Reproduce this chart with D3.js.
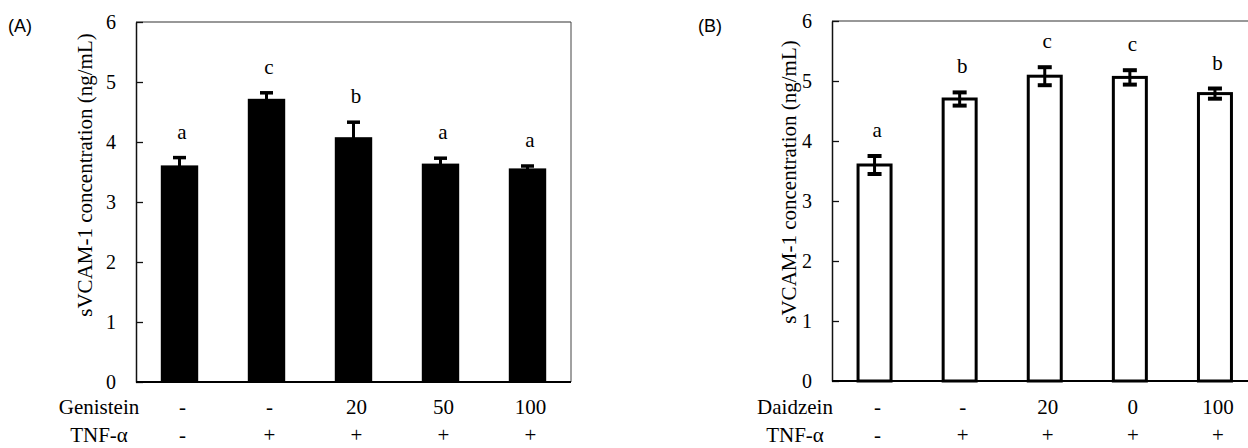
<!DOCTYPE html>
<html>
<head>
<meta charset="utf-8">
<script src="https://cdn.jsdelivr.net/npm/d3@7"></script>
<style>
  body { margin: 0; background: #fff; }
  svg text { font-family: "Liberation Serif", "Times New Roman", serif; fill: #000; }
</style>
</head>
<body>
<svg id="chart" width="1248" height="448"></svg>
<script>
// groups on the x axis (same order in both panels)
const groups = ["g1", "g2", "g3", "g4", "g5"];
const yTicks = [0, 1, 2, 3, 4, 5, 6];
const tnfLabels = ["-", "+", "+", "+", "+"];

// (A) genistein
const genisteinDose = ["-", "-", "20", "50", "100"];
const genisteinMean = [3.61, 4.72, 4.08, 3.64, 3.56];
const genisteinSD = [0.13, 0.10, 0.25, 0.09, 0.04];
const genisteinLetters = ["a", "c", "b", "a", "a"];

// (B) daidzein
const daidzeinDose = ["-", "-", "20", "0", "100"];
const daidzeinMean = [3.60, 4.70, 5.08, 5.06, 4.79];
const daidzeinSD = [0.15, 0.11, 0.15, 0.12, 0.085];
const daidzeinLetters = ["a", "b", "c", "c", "b"];

const svg = d3.select("#chart");

function drawPanel(p) {
    const g = svg.append("g");

    const x = d3.scaleBand()
        .domain(groups)
        .range([p.left, p.right])
        .paddingInner(p.pad)
        .paddingOuter(p.pad / 2);
    const y = d3.scaleLinear().domain([0, 6]).range([p.bottom, p.top]);
    const bw = x.bandwidth();
    const cx = d => x(d) + bw / 2;

    const rows = groups.map((d, i) => ({
        id: d, mean: p.mean[i], sd: p.sd[i], letter: p.letters[i],
        dose: p.dose[i], tnf: tnfLabels[i]
    }));

    // frame: thin top and right border
    g.append("line")
        .attr("x1", p.left).attr("x2", p.right)
        .attr("y1", p.top).attr("y2", p.top)
        .attr("stroke", "#333").attr("stroke-width", 1.2);
    g.append("line")
        .attr("x1", p.right).attr("x2", p.right)
        .attr("y1", p.top).attr("y2", p.bottom)
        .attr("stroke", "#444").attr("stroke-width", 1);

    // bars
    g.selectAll(".bar")
        .data(rows)
        .enter().append("rect")
        .attr("class", "bar")
        .attr("x", d => x(d.id) + p.stroke / 2)
        .attr("width", bw - p.stroke)
        .attr("y", d => y(d.mean))
        .attr("height", d => p.bottom - y(d.mean))
        .attr("fill", p.fill)
        .attr("stroke", p.stroke ? "#000" : "none")
        .attr("stroke-width", p.stroke);

    // error bars
    const err = g.selectAll(".err")
        .data(rows)
        .enter().append("g")
        .attr("class", "err")
        .attr("stroke", "#000");
    err.append("line")
        .attr("x1", d => cx(d.id)).attr("x2", d => cx(d.id))
        .attr("y1", d => y(d.mean - d.sd)).attr("y2", d => y(d.mean + d.sd))
        .attr("stroke-width", 3);
    [1, -1].forEach(s => {
        err.append("line")
            .attr("x1", d => cx(d.id) - p.cap / 2).attr("x2", d => cx(d.id) + p.cap / 2)
            .attr("y1", d => y(d.mean + s * d.sd)).attr("y2", d => y(d.mean + s * d.sd))
            .attr("stroke-width", p.capW);
    });

    // significance letters
    g.selectAll(".letter")
        .data(rows)
        .enter().append("text")
        .attr("class", "letter")
        .attr("x", d => cx(d.id) + 2.5)
        .attr("y", d => y(d.mean + d.sd) - 19)
        .attr("text-anchor", "middle")
        .style("font-size", "21px")
        .text(d => d.letter);

    // y axis, ticks inward
    const yAxis = d3.axisLeft(y)
        .tickValues(yTicks)
        .tickSizeInner(-7)
        .tickSizeOuter(0)
        .tickPadding(20)
        .tickFormat(d3.format("d"));
    const ya = g.append("g")
        .attr("transform", `translate(${p.left},0)`)
        .call(yAxis);
    ya.attr("font-family", null);
    ya.select(".domain").attr("stroke", "#111").attr("stroke-width", 1.5);
    ya.selectAll(".tick line").attr("stroke", "#111").attr("stroke-width", 1.3);
    ya.selectAll(".tick text")
        .attr("fill", "#000")
        .style("font-size", "20px")
        .style("font-family", "'Liberation Serif', serif");

    // baseline
    g.append("line")
        .attr("x1", p.left).attr("x2", p.right)
        .attr("y1", p.bottom).attr("y2", p.bottom)
        .attr("stroke", "#000").attr("stroke-width", 2);

    // y label
    g.append("text")
        .attr("transform", `translate(${p.ylabX},${p.ylabY}) rotate(-90)`)
        .attr("text-anchor", "middle")
        .style("font-size", "21px")
        .text("sVCAM-1 concentration (ng/mL)");

    // treatment rows under the axis
    [[p.compound, "dose", 414], ["TNF-α", "tnf", 442]].forEach(([name, key, yy]) => {
        g.append("text")
            .attr("x", p.rowX).attr("y", yy)
            .attr("text-anchor", "middle")
            .style("font-size", "21px")
            .text(name);
        g.selectAll(".row-" + key)
            .data(rows)
            .enter().append("text")
            .attr("class", "row-" + key)
            .attr("x", d => cx(d.id) + 3)
            .attr("y", yy)
            .attr("text-anchor", "middle")
            .style("font-size", "21px")
            .text(d => d[key]);
    });

    // panel tag
    g.append("text")
        .attr("x", p.tagX).attr("y", 32)
        .attr("text-anchor", "middle")
        .style("font-family", "'Liberation Sans', Arial, sans-serif")
        .style("font-size", "18px")
        .text(p.tag);
}

drawPanel({
    tag: "(A)", tagX: 20, compound: "Genistein",
    dose: genisteinDose, mean: genisteinMean, sd: genisteinSD, letters: genisteinLetters,
    left: 136, right: 571, top: 22, bottom: 382, pad: 0.57,
    fill: "#000", stroke: 0, cap: 13, capW: 3.5,
    rowX: 99, ylabX: 91.5, ylabY: 175
});

drawPanel({
    tag: "(B)", tagX: 710, compound: "Daidzein",
    dose: daidzeinDose, mean: daidzeinMean, sd: daidzeinSD, letters: daidzeinLetters,
    left: 832, right: 1257.5, top: 21, bottom: 381, pad: 0.577,
    fill: "#fff", stroke: 3, cap: 14, capW: 4,
    rowX: 795, ylabX: 796, ylabY: 182
});
</script>
</body>
</html>
